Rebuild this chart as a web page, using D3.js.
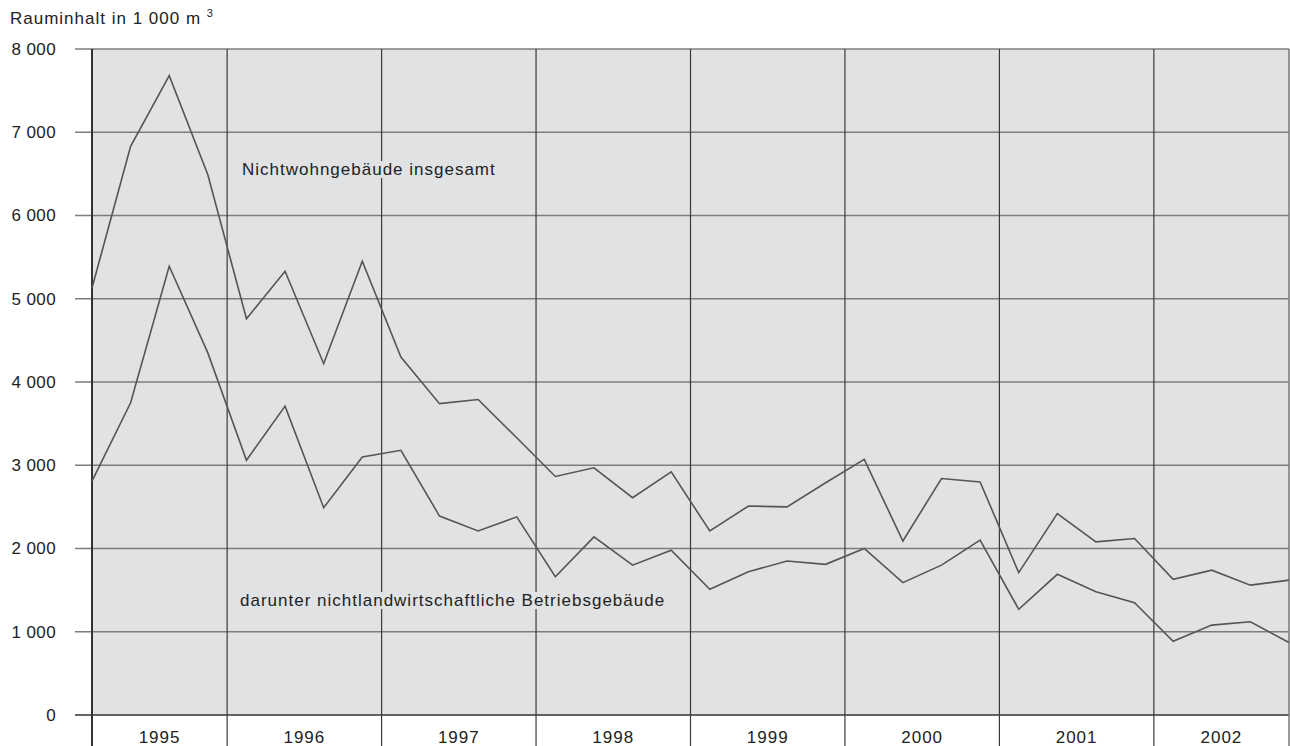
<!DOCTYPE html>
<html>
<head>
<meta charset="utf-8">
<script src="https://cdn.jsdelivr.net/npm/d3@7"></script>
<style>
  body { margin: 0; background: #fff; }
  svg text { font-family: "Liberation Sans", Arial, sans-serif; fill: #222; }
</style>
</head>
<body>
<div id="chart"></div>
<script>
// Quartalswerte 1995 Q1 bis 2002 Q4, Rauminhalt in 1 000 m3
var years = ["1995", "1996", "1997", "1998", "1999", "2000", "2001", "2002"];
var insgesamt = [5130, 6830, 7680, 6490, 4760, 5330, 4220, 5450,
                 4300, 3740, 3790, 3330, 2865, 2970, 2610, 2920,
                 2210, 2510, 2500, 2790, 3070, 2090, 2840, 2800,
                 1710, 2420, 2080, 2120, 1630, 1740, 1560, 1620];
var betriebsgebaeude = [2810, 3750, 5390, 4350, 3060, 3710, 2490, 3100,
                        3180, 2390, 2210, 2380, 1660, 2140, 1800, 1980,
                        1510, 1720, 1850, 1810, 2000, 1590, 1800, 2100,
                        1270, 1690, 1480, 1350, 885, 1080, 1120, 870];
var yTicks = [0, 1000, 2000, 3000, 4000, 5000, 6000, 7000, 8000];

var width = 1290, height = 746;
var margin = {top: 49, right: 1, bottom: 31, left: 92};
var innerW = width - margin.left - margin.right,
    innerH = height - margin.top - margin.bottom;

var de = d3.formatLocale({decimal: ",", thousands: " ", grouping: [3], currency: ["", " €"]});
var fmt = de.format(",d");

var x = d3.scaleLinear().domain([0, insgesamt.length - 1]).range([0, innerW]);
var y = d3.scaleLinear().domain([0, 8000]).range([innerH, 0]);

var svg = d3.select("#chart").append("svg")
    .attr("width", width)
    .attr("height", height);

var g = svg.append("g")
    .attr("transform", "translate(" + margin.left + "," + margin.top + ")");

// hintergrund
g.append("rect")
    .attr("width", innerW)
    .attr("height", innerH)
    .attr("fill", "#e1e2e4");

// horizontale linien + ticks
g.selectAll("line.grid")
    .data(yTicks)
    .enter().append("line")
    .attr("class", "grid")
    .attr("x1", -17)
    .attr("x2", innerW)
    .attr("y1", function (d) { return y(d); })
    .attr("y2", function (d) { return y(d); })
    .attr("stroke", function (d) { return d === 0 ? "#333" : "#7d7d7d"; })
    .attr("stroke-width", function (d) { return d === 0 ? 1.6 : 1.3; });

g.selectAll("text.ytick")
    .data(yTicks)
    .enter().append("text")
    .attr("class", "ytick")
    .attr("x", -36)
    .attr("y", function (d) { return y(d); })
    .attr("dy", "0.35em")
    .attr("text-anchor", "end")
    .style("font-size", "17px")
    .style("letter-spacing", "0.4px")
    .text(function (d) { return fmt(d); });

// jahres-trenner
var bounds = years.slice(1).map(function (yr, i) { return 4 * (i + 1) - 0.5; });
g.selectAll("line.year")
    .data(bounds)
    .enter().append("line")
    .attr("class", "year")
    .attr("x1", function (d) { return x(d); })
    .attr("x2", function (d) { return x(d); })
    .attr("y1", 0)
    .attr("y2", height - margin.top)
    .attr("stroke", "#3a3a3a")
    .attr("stroke-width", 1.2);

// rechter rand
g.append("line")
    .attr("x1", innerW).attr("x2", innerW)
    .attr("y1", 0).attr("y2", height - margin.top)
    .attr("stroke", "#777").attr("stroke-width", 1.5);

// linke achse
g.append("line")
    .attr("x1", 0).attr("x2", 0)
    .attr("y1", 0).attr("y2", height - margin.top)
    .attr("stroke", "#333").attr("stroke-width", 2);

// jahreszahlen
g.selectAll("text.yr")
    .data(years)
    .enter().append("text")
    .attr("class", "yr")
    .attr("x", function (d, i) {
        var a = Math.max(0, 4 * i - 0.5), b = Math.min(insgesamt.length - 1, 4 * i + 3.5);
        return (x(a) + x(b)) / 2;
    })
    .attr("y", innerH + 28)
    .attr("text-anchor", "middle")
    .style("font-size", "17px")
    .style("letter-spacing", "1px")
    .text(function (d) { return d; });

// linien
var line = d3.line()
    .x(function (d, i) { return x(i); })
    .y(function (d) { return y(d); });

[insgesamt, betriebsgebaeude].forEach(function (s) {
    g.append("path")
        .datum(s)
        .attr("d", line)
        .attr("fill", "none")
        .attr("stroke", "#555")
        .attr("stroke-width", 1.6)
        .attr("stroke-linejoin", "miter");
});

// beschriftungen mit hintergrund
function label(txt, px, py) {
    var t = g.append("text")
        .attr("x", px)
        .attr("y", py)
        .style("font-size", "17px")
        .style("letter-spacing", "1px")
        .text(txt);
    var bb = t.node().getBBox();
    g.insert("rect", function () { return t.node(); })
        .attr("x", bb.x - 2)
        .attr("y", bb.y + 1)
        .attr("width", bb.width + 4)
        .attr("height", bb.height - 2)
        .attr("fill", "#e1e2e4");
}
label("Nichtwohngebäude insgesamt", 150, 126);
label("darunter nichtlandwirtschaftliche Betriebsgebäude", 148, 557);

// achsentitel
var title = svg.append("text")
    .attr("x", 10)
    .attr("y", 24)
    .style("font-size", "17px")
    .style("letter-spacing", "1px")
    .text("Rauminhalt in 1 000 m ");
title.append("tspan")
    .attr("dy", -7)
    .style("font-size", "11px")
    .text("3");
</script>
</body>
</html>
